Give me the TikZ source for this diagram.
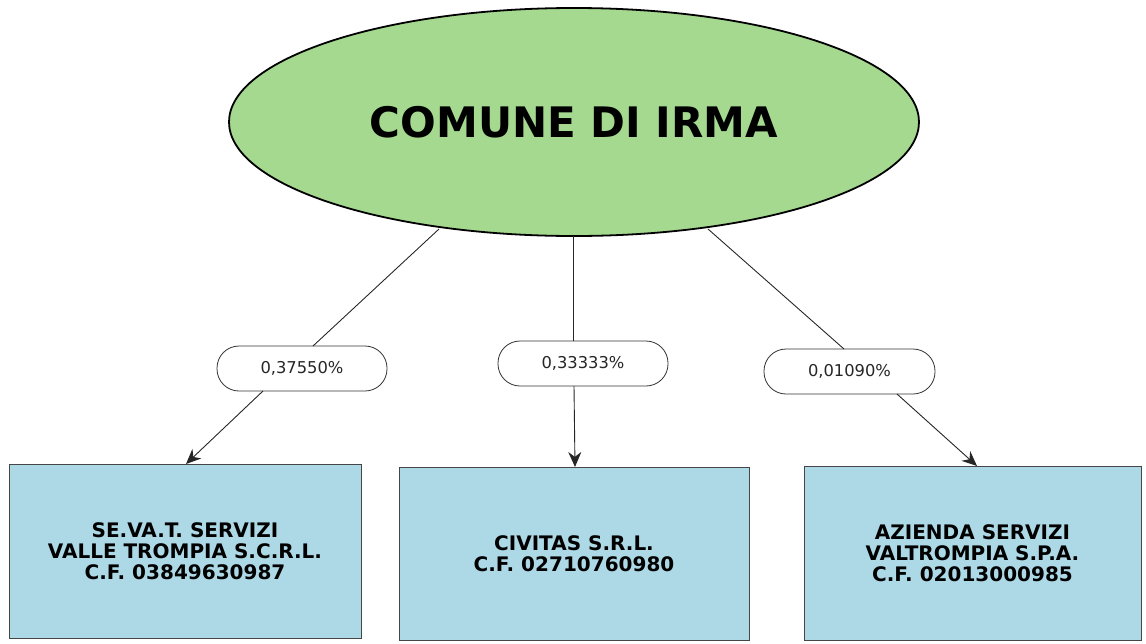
\documentclass[tikz,border=0pt]{standalone}
\usepackage{fontspec}
\setmainfont{DejaVu Sans}
\usetikzlibrary{shapes.geometric,arrows.meta}
\definecolor{elgreen}{RGB}{164,217,143}
\definecolor{boxblue}{RGB}{173,216,230}
\definecolor{boxline}{RGB}{70,70,70}
\begin{document}
\begin{tikzpicture}[x=1pt,y=-1pt,
  company/.style={draw=boxline,line width=0.8pt,fill=boxblue,inner sep=0pt,align=center,
    font=\fontsize{20}{21}\selectfont\bfseries},
  pct/.style={draw=black!80,line width=0.8pt,rounded corners=22pt,fill=white,inner sep=0pt,
    text=black!85,font=\fontsize{16.3}{18}\selectfont},
  conn/.style={draw=black!85,line width=0.9pt},
  arr/.style={conn,-{Stealth[length=15pt,width=13pt]}}]
\useasboundingbox (0,0) rectangle (1146,643);
\node[ellipse,draw=black,line width=1.8pt,fill=elgreen,minimum width=690pt,minimum height=228pt,
  font=\fontsize{42}{48}\selectfont\bfseries] (top) at (574,122) {COMUNE DI IRMA};
\node[company,minimum width=352pt,minimum height=174pt] (b1) at (185,551)
  {SE.VA.T. SERVIZI\\VALLE TROMPIA S.C.R.L.\\C.F. 03849630987};
\node[company,minimum width=350pt,minimum height=173pt] (b2) at (574,553.5)
  {CIVITAS S.R.L.\\C.F. 02710760980};
\node[company,minimum width=337pt,minimum height=174pt] (b3) at (972.5,553)
  {AZIENDA SERVIZI\\VALTROMPIA S.P.A.\\C.F. 02013000985};
\node[pct,minimum width=170pt,minimum height=45pt] (p1) at (302,368.5) {0,37550\%};
\node[pct,minimum width=170pt,minimum height=45pt] (p2) at (583,363.5) {0,33333\%};
\node[pct,minimum width=171pt,minimum height=45pt] (p3) at (849.5,371.5) {0,01090\%};
\coordinate (s1) at (439,229);
\coordinate (t1) at (313,346);
\coordinate (u1) at (263,391);
\coordinate (e1) at (186,464);
\coordinate (s2) at (573,236);
\coordinate (t2) at (573,341);
\coordinate (u2) at (574,386);
\coordinate (e2) at (575,467);
\coordinate (s3) at (708,229);
\coordinate (t3) at (844,349);
\coordinate (u3) at (897,394);
\coordinate (e3) at (977,466);
\draw[conn] (s1) -- (t1);
\draw[arr] (u1) -- (e1);
\draw[conn] (s2) -- (t2);
\draw[arr] (u2) -- (e2);
\draw[conn] (s3) -- (t3);
\draw[arr] (u3) -- (e3);
\end{tikzpicture}
\end{document}
